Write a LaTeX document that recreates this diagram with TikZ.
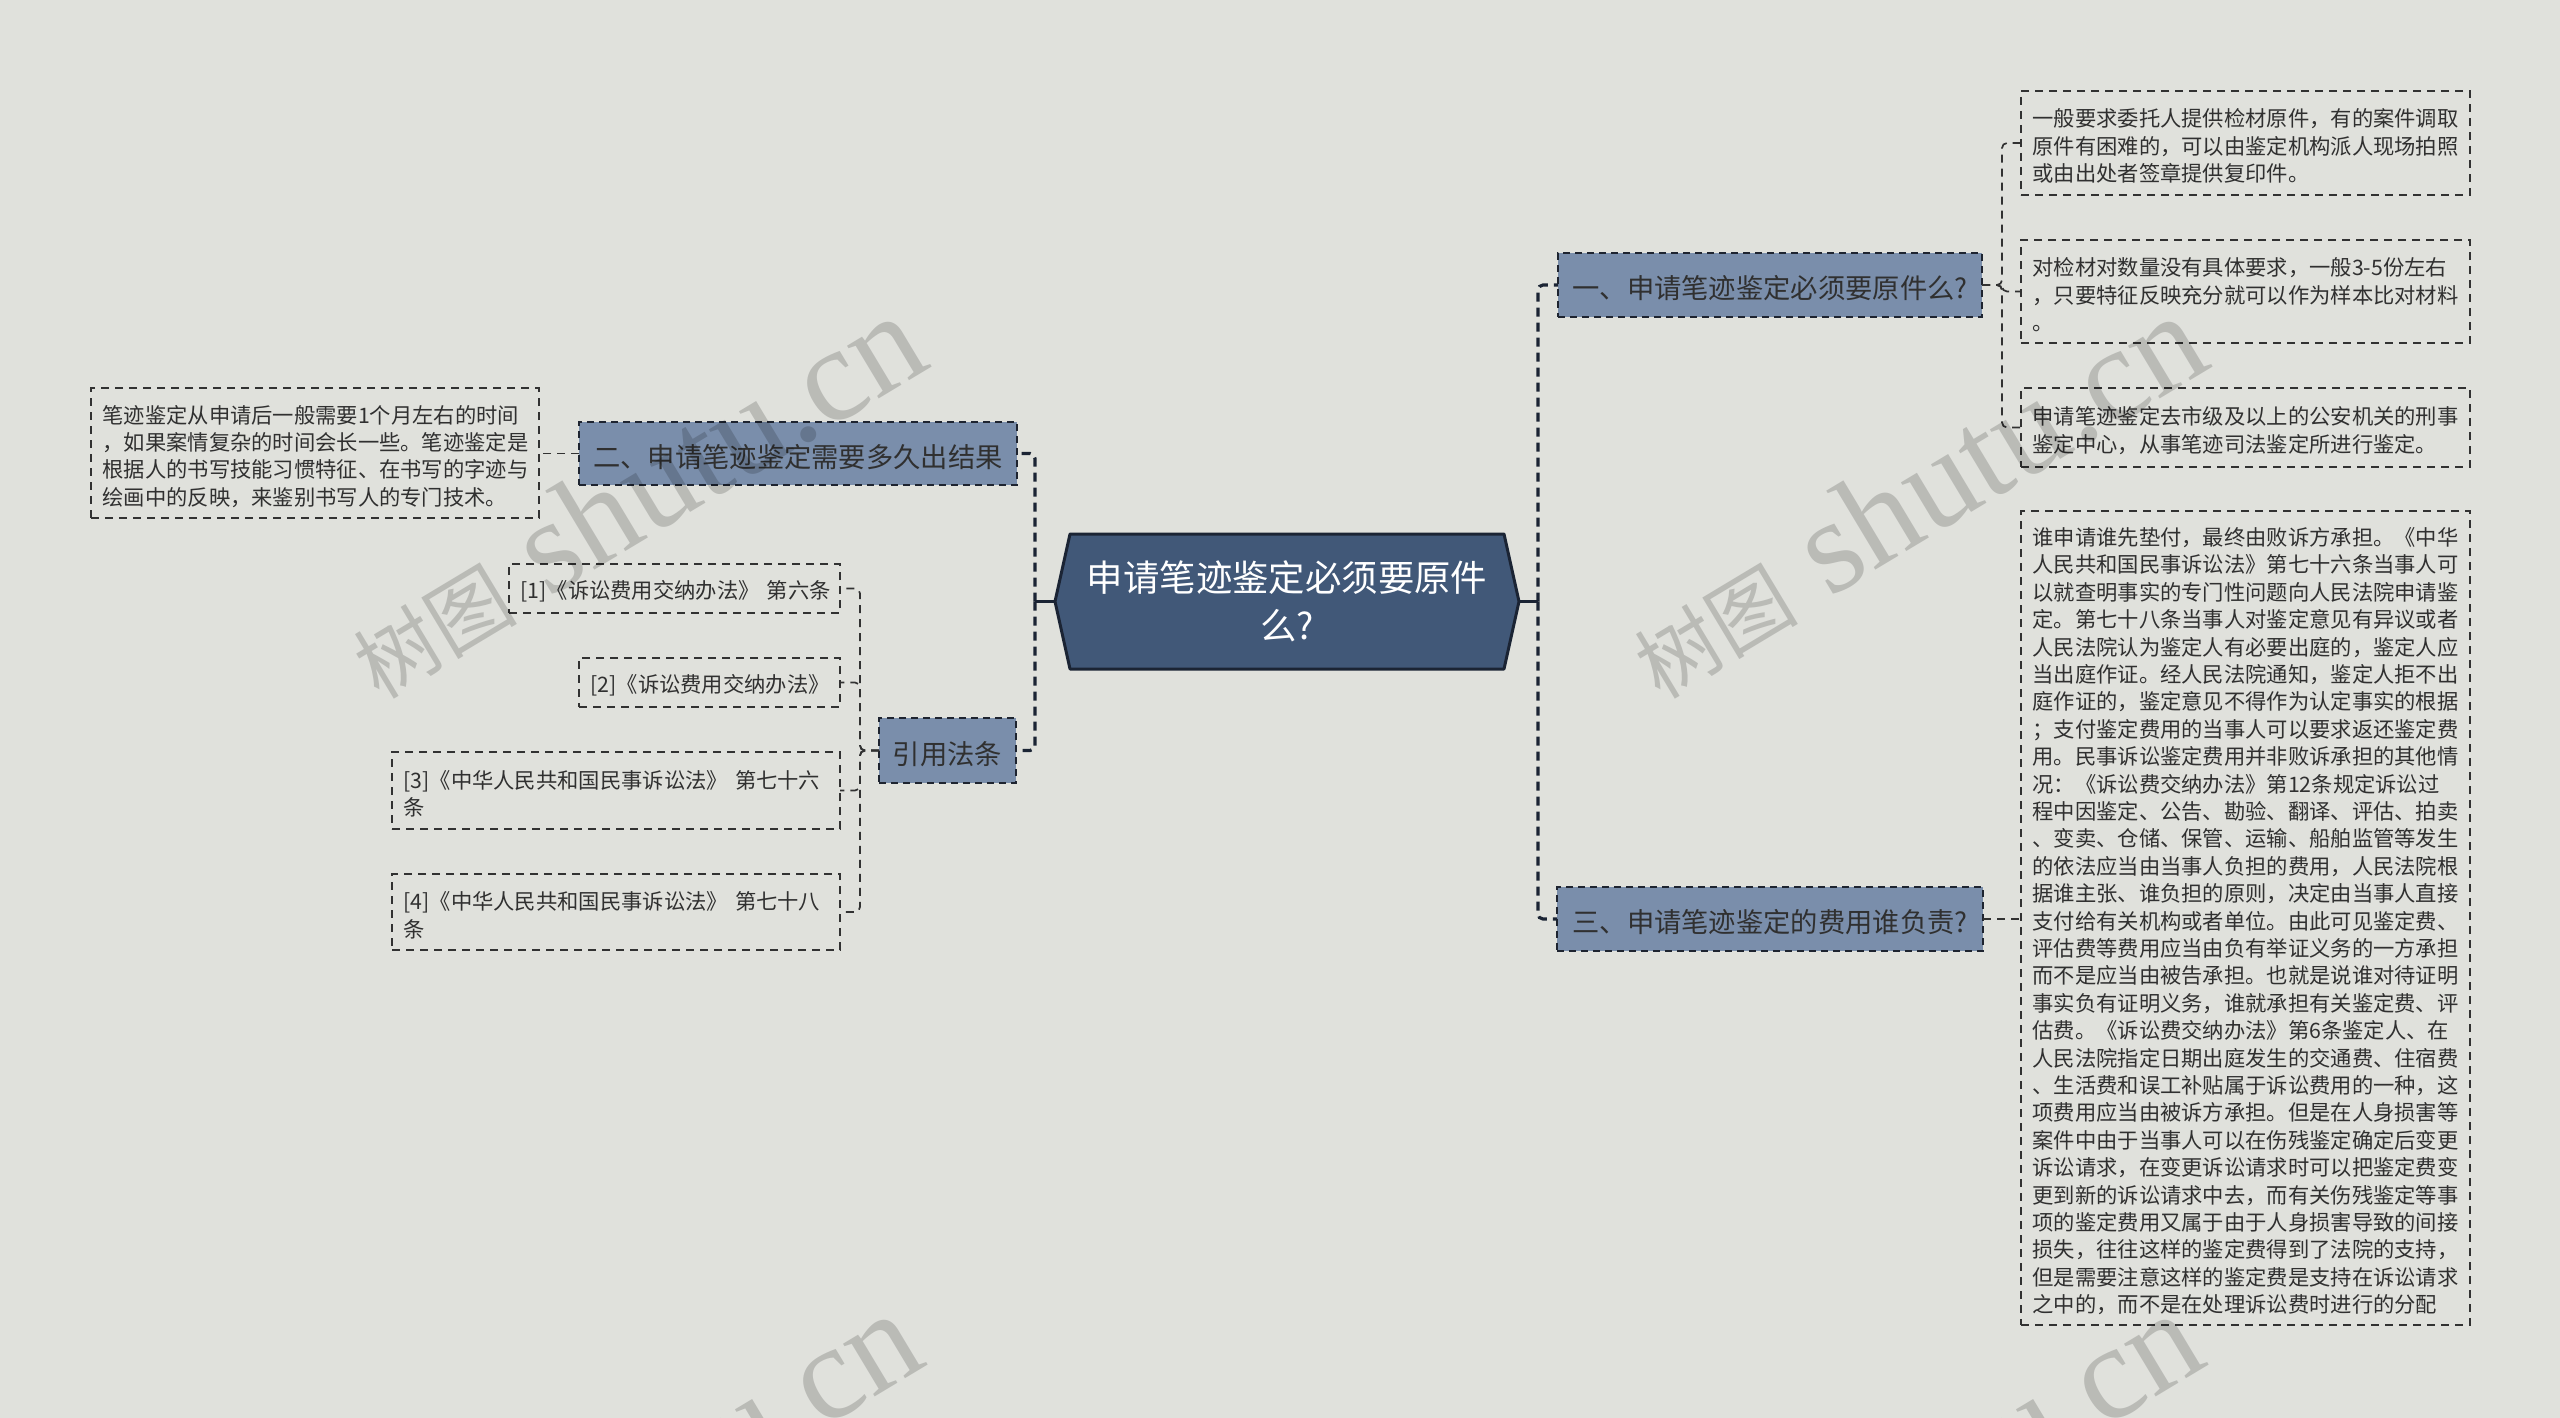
\documentclass[tikz,border=0pt]{standalone}
\usepackage{fontspec}
\setmainfont{Noto Sans CJK SC}
\newfontfamily\wmlat{Liberation Serif}
\usetikzlibrary{backgrounds}
\definecolor{bgc}{RGB}{224,225,220}
\definecolor{mainfill}{RGB}{65,88,120}
\definecolor{mainline}{RGB}{27,36,52}
\definecolor{brfill}{RGB}{122,142,171}
\definecolor{brline}{RGB}{30,36,48}
\definecolor{txt}{RGB}{48,48,48}
\definecolor{leafline}{RGB}{50,50,50}
\tikzset{
  every node/.style={inner sep=0pt, outer sep=0pt},
  mainnode/.style={minimum width=464pt, minimum height=135pt, align=center, text=white, font=\fontsize{36.4pt}{48pt}\selectfont, execute at begin node={\rule{0pt}{36pt}}},
  branch/.style={draw=brline, fill=brfill, line width=2.2pt, dash pattern=on 7pt off 5pt, text=txt, align=center, font=\fontsize{27.3pt}{34pt}\selectfont, execute at begin node={\rule{0pt}{30pt}}},
  leaf/.style={draw=leafline, line width=1.7pt, dash pattern=on 8pt off 6pt, text=txt, align=left, inner xsep=11.5pt, font=\fontsize{21.3pt}{27.4pt}\selectfont, execute at begin node={\rule{0pt}{24.5pt}}},
  trunk/.style={draw=mainline, line width=3.2pt, dash pattern=on 9pt off 6pt, rounded corners=5pt},
  stem/.style={draw=mainline, line width=3.2pt},
  twig/.style={draw=leafline, line width=1.7pt, dash pattern=on 8pt off 6pt, rounded corners=5pt},
  wm/.style={text=black, text opacity=0.17, anchor=base west, rotate=31},
}
\newcommand{\wmtext}{{\fontsize{82pt}{82pt}\selectfont 树图}{\wmlat\fontsize{134pt}{134pt}\selectfont\ shutu.cn}}
\begin{document}
\begin{tikzpicture}[x=1pt,y=-1pt]
\useasboundingbox (0,0) rectangle (2560,1418);

% central node
\node[mainnode] (main) at (1287,601.5) {申请笔迹鉴定必须要原件\\么?};
\begin{scope}[on background layer]
  \fill[bgc] (0,0) rectangle (2560,1418);
  \filldraw[fill=mainfill, draw=mainline, line width=3pt, line join=round]
    (main.west) -- ([xshift=15pt]main.north west) -- ([xshift=-15pt]main.north east)
    -- (main.east) -- ([xshift=-15pt]main.south east) -- ([xshift=15pt]main.south west) -- cycle;
\end{scope}

% branch nodes
\node[branch, minimum width=424pt, minimum height=64pt] (b1) at (1770,285) {一、申请笔迹鉴定必须要原件么?};
\node[branch, minimum width=438pt, minimum height=63pt] (b2) at (798,453.5) {二、申请笔迹鉴定需要多久出结果};
\node[branch, minimum width=426pt, minimum height=64pt] (b3) at (1770,919) {三、申请笔迹鉴定的费用谁负责?};
\node[branch, minimum width=137pt, minimum height=65pt] (b4) at (947.5,750.5) {引用法条};

% right leaves
\node[leaf, text width=426pt, minimum height=104pt] (r1) at (2245.5,143) {一般要求委托人提供检材原件，有的案件调取\\原件有困难的，可以由鉴定机构派人现场拍照\\或由出处者签章提供复印件。};
\node[leaf, text width=426pt, minimum height=103pt] (r2) at (2245.5,291.5) {对检材对数量没有具体要求，一般3-5份左右\\，只要特征反映充分就可以作为样本比对材料\\。};
\node[leaf, text width=426pt, minimum height=79pt] (r3) at (2245.5,427.5) {申请笔迹鉴定去市级及以上的公安机关的刑事\\鉴定中心，从事笔迹司法鉴定所进行鉴定。};
\node[leaf, text width=426pt, minimum height=814pt] (r4) at (2245.5,918) {谁申请谁先垫付，最终由败诉方承担。《中华\\人民共和国民事诉讼法》第七十六条当事人可\\以就查明事实的专门性问题向人民法院申请鉴\\定。第七十八条当事人对鉴定意见有异议或者\\人民法院认为鉴定人有必要出庭的，鉴定人应\\当出庭作证。经人民法院通知，鉴定人拒不出\\庭作证的，鉴定意见不得作为认定事实的根据\\；支付鉴定费用的当事人可以要求返还鉴定费\\用。民事诉讼鉴定费用并非败诉承担的其他情\\况：《诉讼费交纳办法》第12条规定诉讼过\\程中因鉴定、公告、勘验、翻译、评估、拍卖\\、变卖、仓储、保管、运输、船舶监管等发生\\的依法应当由当事人负担的费用，人民法院根\\据谁主张、谁负担的原则，决定由当事人直接\\支付给有关机构或者单位。由此可见鉴定费、\\评估费等费用应当由负有举证义务的一方承担\\而不是应当由被告承担。也就是说谁对待证明\\事实负有证明义务，谁就承担有关鉴定费、评\\估费。《诉讼费交纳办法》第6条鉴定人、在\\人民法院指定日期出庭发生的交通费、住宿费\\、生活费和误工补贴属于诉讼费用的一种，这\\项费用应当由被诉方承担。但是在人身损害等\\案件中由于当事人可以在伤残鉴定确定后变更\\诉讼请求，在变更诉讼请求时可以把鉴定费变\\更到新的诉讼请求中去，而有关伤残鉴定等事\\项的鉴定费用又属于由于人身损害导致的间接\\损失，往往这样的鉴定费得到了法院的支持，\\但是需要注意这样的鉴定费是支持在诉讼请求\\之中的，而不是在处理诉讼费时进行的分配};

% left leaves
\node[leaf, text width=425pt, minimum height=130pt] (l1) at (315,453) {笔迹鉴定从申请后一般需要1个月左右的时间\\，如果案情复杂的时间会长一些。笔迹鉴定是\\根据人的书写技能习惯特征、在书写的字迹与\\绘画中的反映，来鉴别书写人的专门技术。};
\node[leaf, text width=308pt, minimum height=49pt] (c1) at (674.5,588.5) {[1]《诉讼费用交纳办法》~第六条};
\node[leaf, text width=238pt, minimum height=49pt] (c2) at (709.5,682.5) {[2]《诉讼费用交纳办法》};
\node[leaf, text width=425pt, minimum height=77pt] (c3) at (616,790.5) {[3]《中华人民共和国民事诉讼法》~第七十六\\条};
\node[leaf, text width=425pt, minimum height=76pt] (c4) at (616,912) {[4]《中华人民共和国民事诉讼法》~第七十八\\条};

% trunk connectors
\coordinate (rt) at ([xshift=19pt]main.east);
\coordinate (lt) at ([xshift=-20pt]main.west);
\draw[stem] (main.east) -- (rt);
\draw[stem] (main.west) -- (lt);
\draw[trunk] (rt) |- (b1.west);
\draw[trunk] (rt) |- (b3.west);
\draw[trunk] (lt) |- (b2.east);
\draw[trunk] (lt) |- (b4.east);

% twig connectors
\coordinate (j1) at ([xshift=20pt]b1.east);
\draw[twig] (b1.east) -- (j1) |- (r1.west);
\draw[twig] (b1.east) -- (j1) |- (r2.west);
\draw[twig] (b1.east) -- (j1) |- (r3.west);
\draw[twig] (b3.east) -- (b3.east -| r4.west);
\draw[twig] (b2.west) -- (b2.west -| l1.east);
\coordinate (j4) at ([xshift=-19pt]b4.west);
\draw[twig] (b4.west) -- (j4) |- (c1.east);
\draw[twig] (b4.west) -- (j4) |- (c2.east);
\draw[twig] (b4.west) -- (j4) |- (c3.east);
\draw[twig] (b4.west) -- (j4) |- (c4.east);

% watermarks
\node[wm] (wm1) at (379,700) {\wmtext};
\node[wm] (wm2) at (1660,700) {\wmtext};
\node[wm] (wm3) at (375,1698) {\wmtext};
\node[wm] (wm4) at (1656,1698) {\wmtext};
\end{tikzpicture}
\end{document}
